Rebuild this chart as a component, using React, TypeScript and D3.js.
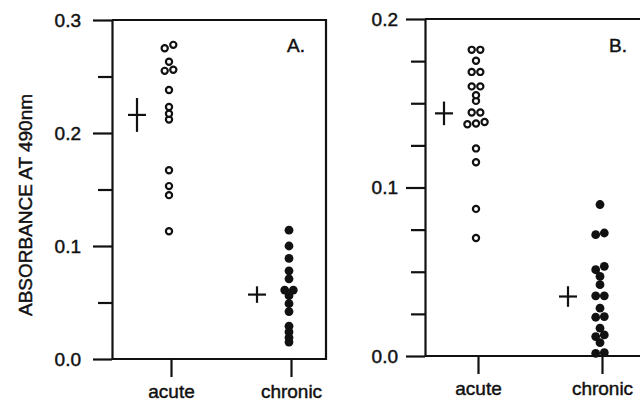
import { useRef, useEffect } from 'react';
import * as d3 from 'd3';

const groups = ['acute', 'chronic'];

// panel A values (absorbance)
const acuteA = [0.278, 0.275, 0.263, 0.255, 0.256, 0.238, 0.223, 0.217, 0.212, 0.167, 0.153, 0.145, 0.113];
const chronicA = [0.114, 0.100, 0.089, 0.078, 0.071, 0.061, 0.061, 0.056, 0.049, 0.042, 0.029, 0.024, 0.019, 0.015];
const meanA = [0.216, 0.057];
const seA = [0.015, 0.0073];
const ticksA = [0, 0.1, 0.2, 0.3];
const minorA = [0.05, 0.15, 0.25];

// panel B values
const acuteB = [0.1817, 0.1817, 0.1752, 0.1686, 0.1686, 0.160, 0.160, 0.1548, 0.1514, 0.1445, 0.1445,
  0.1375, 0.138, 0.1389, 0.1232, 0.115, 0.0873, 0.070];
const chronicB = [0.0899, 0.072, 0.073, 0.0532, 0.0512, 0.0472, 0.0423, 0.0357, 0.0357, 0.0284, 0.023, 0.0234,
  0.0165, 0.0125, 0.0115, 0.0079, 0.0016, 0.002];
const meanB = [0.144, 0.0353];
const seB = [0.007, 0.0061];
const ticksB = [0, 0.1, 0.2];
const minorB = [0.025, 0.05, 0.075, 0.125, 0.15, 0.175];

const font = '"Liberation Sans", Arial, Helvetica, sans-serif';
const ink = '#111';

// put values that sit (almost) at the same height side by side
function spread(values: number[], y: (v: number) => number, cx: number, gap: number) {
  const sorted = [...values].sort((a, b) => a - b);
  const rows: number[][] = [];
  sorted.forEach(v => {
    const last = rows[rows.length - 1];
    if (last && Math.abs(y(last[last.length - 1]) - y(v)) < 4) last.push(v);
    else rows.push([v]);
  });
  const out: { x: number; y: number }[] = [];
  rows.forEach(r => r.forEach((v, i) => out.push({ x: cx + (i - (r.length - 1) / 2) * gap, y: y(v) })));
  return out;
}

// scanned type looks a bit heavier than plain Liberation Sans
function styleText(sel: any) {
  sel.attr('font-family', font).attr('font-size', 19).attr('fill', ink)
    .attr('stroke', ink).attr('stroke-width', 0.45);
}

export default function App() {
  const svgRef = useRef<SVGSVGElement>(null);

  useEffect(() => {
    const width = 640;
    const height = 402;
    const svg = d3.select(svgRef.current).attr('width', width).attr('height', height);
    svg.selectAll('*').remove();

    const panels = [
      { label: 'A.', domain: [0, 0.3], yRange: [359, 20], x0: 112, x1: 326, xr: [171, 291], labelX: 287,
        ticks: ticksA, minor: minorA, pad: 12, acute: acuteA, chronic: chronicA, mean: meanA, se: seA },
      { label: 'B.', domain: [0, 0.2], yRange: [356, 19], x0: 425, x1: 650, xr: [478, 602], labelX: 609,
        ticks: ticksB, minor: minorB, pad: 8, acute: acuteB, chronic: chronicB, mean: meanB, se: seB },
    ];

    panels.forEach(p => {
      const y = d3.scaleLinear().domain(p.domain).range(p.yRange);
      const x = d3.scalePoint<string>().domain(groups).range(p.xr as [number, number]);
      const g = svg.append('g');

      // frame: top, right, bottom
      const frame = d3.line();
      g.append('path')
        .attr('d', frame([[p.x0, y(p.domain[1])], [p.x1, y(p.domain[1])], [p.x1, y(0)], [p.x0, y(0)]]))
        .attr('fill', 'none').attr('stroke', ink).attr('stroke-width', 2.2);

      // y axis, major + minor ticks
      const yAxis = g.append('g').attr('transform', `translate(${p.x0},0)`)
        .call(d3.axisLeft(y).tickValues(p.ticks).tickSize(19).tickSizeOuter(0).tickPadding(p.pad)
          .tickFormat(d3.format('.1f')));
      g.append('g').attr('transform', `translate(${p.x0},0)`)
        .call(d3.axisLeft(y).tickValues(p.minor).tickSize(14).tickSizeOuter(0).tickFormat(() => ''))
        .call(a => a.select('.domain').remove())
        .selectAll('line').attr('stroke-width', 2.2).attr('stroke', ink);
      yAxis.selectAll('line, path').attr('stroke-width', 2.2).attr('stroke', ink);
      styleText(yAxis.selectAll('text'));

      // x axis ticks
      const xAxis = g.append('g').attr('transform', `translate(0,${y(0)})`)
        .call(d3.axisBottom(x).tickSize(18).tickPadding(8));
      xAxis.select('.domain').remove();
      xAxis.selectAll('line').attr('stroke-width', 2.2).attr('stroke', ink);
      styleText(xAxis.selectAll('text'));

      // points
      const acutePts = spread(p.acute, y, x('acute')! - 2, 8.6);
      g.selectAll('circle.acute').data(acutePts).enter().append('circle')
        .attr('class', 'acute')
        .attr('cx', d => d.x).attr('cy', d => d.y).attr('r', 3.1)
        .attr('fill', 'white').attr('stroke', ink).attr('stroke-width', 2.2);

      const chronicPts = spread(p.chronic, y, x('chronic')! - 2, 8.6);
      g.selectAll('circle.chronic').data(chronicPts).enter().append('circle')
        .attr('class', 'chronic')
        .attr('cx', d => d.x).attr('cy', d => d.y).attr('r', 4.4)
        .attr('fill', ink);

      // mean +- SE crosses
      groups.forEach((k, i) => {
        const cx = x(k)! - 34;
        g.append('line').attr('x1', cx).attr('x2', cx)
          .attr('y1', y(p.mean[i] - p.se[i])).attr('y2', y(p.mean[i] + p.se[i]))
          .attr('stroke', ink).attr('stroke-width', 2.2);
        g.append('line').attr('x1', cx - 9).attr('x2', cx + 9)
          .attr('y1', y(p.mean[i])).attr('y2', y(p.mean[i]))
          .attr('stroke', ink).attr('stroke-width', 2.2);
      });

      styleText(g.append('text').attr('x', p.labelX).attr('y', 52).text(p.label));
    });

    styleText(svg.append('text')
      .attr('transform', 'translate(32,205) rotate(-90)')
      .attr('text-anchor', 'middle')
      .text('ABSORBANCE AT 490nm'));
  }, []);

  return (
    <svg ref={svgRef} style={{ position: 'absolute', left: 0, top: 0, background: 'white' }} />
  );
}
